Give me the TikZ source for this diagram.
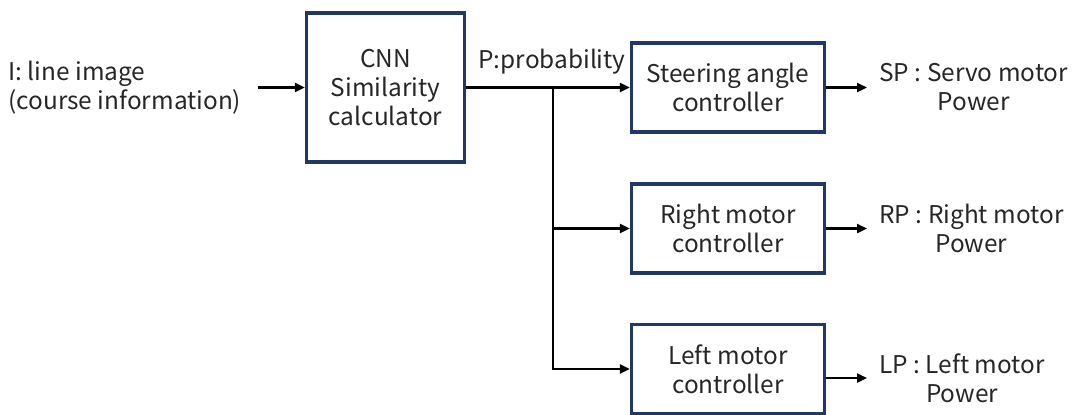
\documentclass[tikz,border=0pt]{standalone}
\usepackage{fontspec}
\setmainfont{Noto Sans CJK JP}
\usetikzlibrary{arrows.meta}
\usetikzlibrary{positioning}
\usetikzlibrary{calc}

\definecolor{boxblue}{RGB}{31,56,100}
\definecolor{textgray}{RGB}{38,38,38}

\newcommand{\blockfont}{\fontsize{12.2pt}{14.5pt}\selectfont}

\tikzset{
    block/.style={draw=boxblue, line width=1.6pt, fill=white, align=center,
        minimum width=96.5pt, minimum height=44.5pt, inner sep=0pt},
    sig/.style={-{Triangle[length=5pt,width=4.5pt]}, line width=1.15pt, black},
    sigtext/.style={inner sep=0pt, inner xsep=6pt},
}

\begin{document}
\begin{tikzpicture}[x=0.5pt, y=-0.5pt, font=\blockfont, text=textgray]
    \useasboundingbox (0,0) rectangle (1078,414);

    % blocks
    \node[block, minimum width=79pt, minimum height=74.5pt] (cnn) at (385.5,87.5) {CNN\\Similarity\\calculator};
    \node[block] (steer) at (728,87.5) {Steering angle\\controller};
    \node[block] (right) at (728,228.5) {Right motor\\controller};
    \node[block] (left) at (728,369) {Left motor\\controller};

    % input image
    \node[sigtext, anchor=west, align=left, inner xsep=0pt] (img) at (8,87.5) {I: line image\\(course information)};
    \coordinate (imgout) at (258,87.5);
    \draw[sig] (imgout) -- (cnn.west);

    % probability, split to the three controllers
    \coordinate (split) at (553,87.5);
    \draw[sig] (cnn.east) -- (steer.west);
    \draw[sig] (split) |- (right.west);
    \draw[sig] (split) |- (left.west);
    \node[sigtext] (prob) at (552,62) {P:probability};

    % motor powers
    \node[sigtext, anchor=west, align=center] (sp) at (867,87.5) {SP : Servo motor\\Power};
    \node[sigtext, anchor=west, align=center] (rp) at (867,228.5) {RP : Right motor\\Power};
    \node[sigtext, anchor=west, align=center] (lp) at (867,378) {LP : Left motor\\Power};

    \draw[sig] (sp.west -| steer.east) -- (sp.west);
    \draw[sig] (rp.west -| right.east) -- (rp.west);
    \draw[sig] (lp.west -| left.east) -- (lp.west);

\end{tikzpicture}
\end{document}
